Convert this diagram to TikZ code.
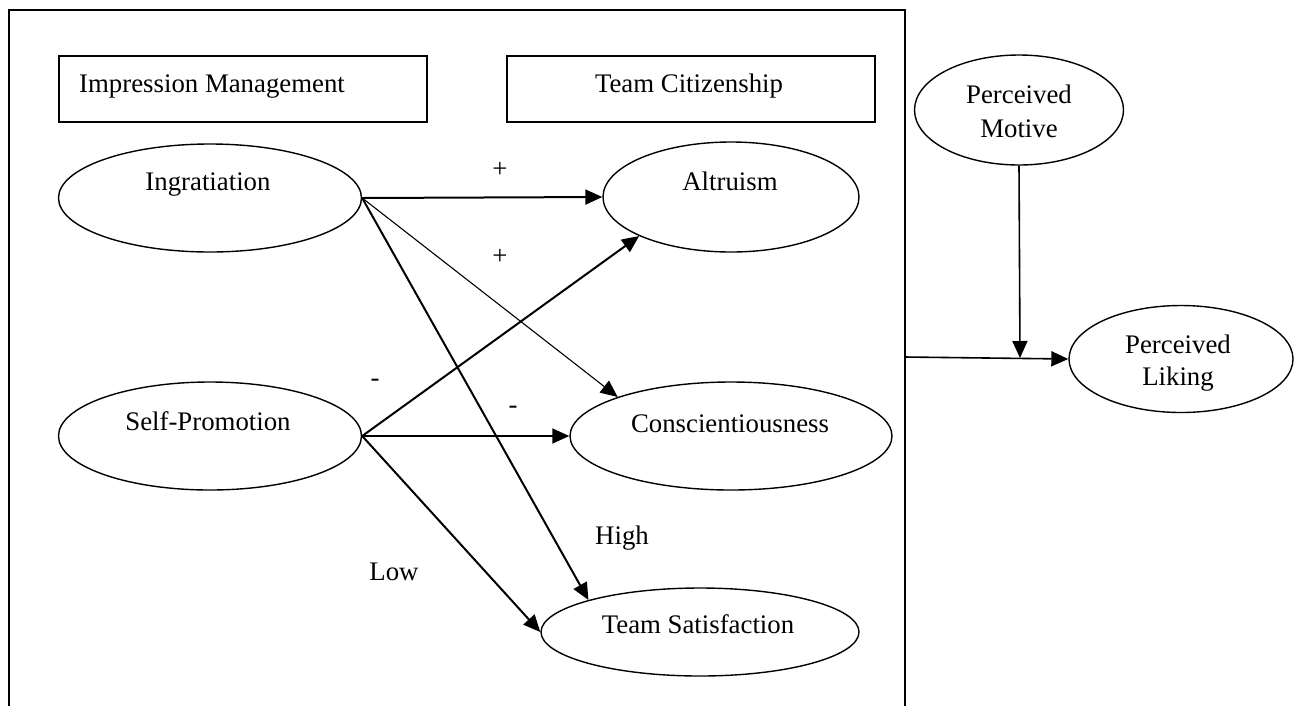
\documentclass[tikz,border=0pt]{standalone}
\usepackage{fontspec}
\setmainfont{Liberation Serif}
\usetikzlibrary{shapes.geometric,arrows.meta}
\begin{document}
\begin{tikzpicture}[x=1pt,y=-1pt,
  every node/.style={font=\fontsize{26.8}{32}\selectfont},
  oval/.style={draw,ellipse,line width=1.4pt,inner sep=0pt},
  txt/.style={anchor=base,inner sep=0pt},
  hdr/.style={draw,line width=1.6pt,inner sep=0pt,minimum width=368pt,minimum height=66pt},
  arr/.style={-{Triangle[length=17pt,width=15pt]},line width=2pt},
  thinarr/.style={-{Triangle[length=17pt,width=15pt]},line width=1.1pt},
  medarr/.style={-{Triangle[length=17pt,width=15pt]},line width=1.6pt},
  lbl/.style={inner sep=0pt}]
\useasboundingbox (0,0) rectangle (1300,705);
% outer frame (open at the bottom)
\draw[line width=2pt] (9,710) -- (9,10) -- (905,10) -- (905,710);
% header boxes
\node[hdr] (imbox) at (243,89) {};
\node[txt,anchor=base west] (imtxt) at (79,92) {Impression Management};
\node[hdr] (tcbox) at (691,89) {};
\node[txt] (tctxt) at (689,92) {Team Citizenship};
% ellipses
\node[oval,minimum width=303pt,minimum height=108pt] (ingr) at (210,198) {};
\node[txt] (ingrt) at (208,190) {Ingratiation};
\node[oval,minimum width=303pt,minimum height=108pt] (selfp) at (210,436) {};
\node[txt] (selfpt) at (208,430) {Self-Promotion};
\node[oval,minimum width=256pt,minimum height=110pt] (altr) at (731,197) {};
\node[txt] (altrt) at (730,190) {Altruism};
\node[oval,minimum width=322pt,minimum height=108pt] (consc) at (731,436) {};
\node[txt] (consct) at (730,432) {Conscientiousness};
\node[oval,minimum width=318pt,minimum height=88pt] (teams) at (700,632) {};
\node[txt] (teamst) at (698,633) {Team Satisfaction};
\node[oval,minimum width=209pt,minimum height=110pt] (pmot) at (1019,110) {};
\node[txt] (pmot1) at (1019,103) {Perceived};
\node[txt] (pmot2) at (1019,137) {Motive};
\node[oval,minimum width=224pt,minimum height=107pt] (plik) at (1181,359) {};
\node[txt] (plik1) at (1178,353) {Perceived};
\node[txt] (plik2) at (1178,385) {Liking};
% connectors
\draw[arr] (ingr.east) -- (altr.west);
\draw[thinarr] (ingr.east) -- (consc.161);
\draw[arr] (ingr.east) -- (teams.164);
\draw[arr] (selfp.east) -- (altr.203);
\draw[medarr] (selfp.east) -- (consc.west);
\draw[arr] (selfp.east) -- (teams.west);
\coordinate (frameout) at (905,357);
\draw[medarr] (frameout) -- (plik.west);
\coordinate (join) at (1020,358);
\draw[medarr] (pmot.south) -- (join);
% labels
\node[lbl] (p1) at (500,170) {+};
\node[lbl] (p2) at (500,257) {+};
\node[lbl] (m1) at (375,383) {-};
\node[lbl] (m2) at (513,410) {-};
\node[lbl] (high) at (622,538) {High};
\node[lbl] (low) at (394,572) {Low};
\end{tikzpicture}
\end{document}
